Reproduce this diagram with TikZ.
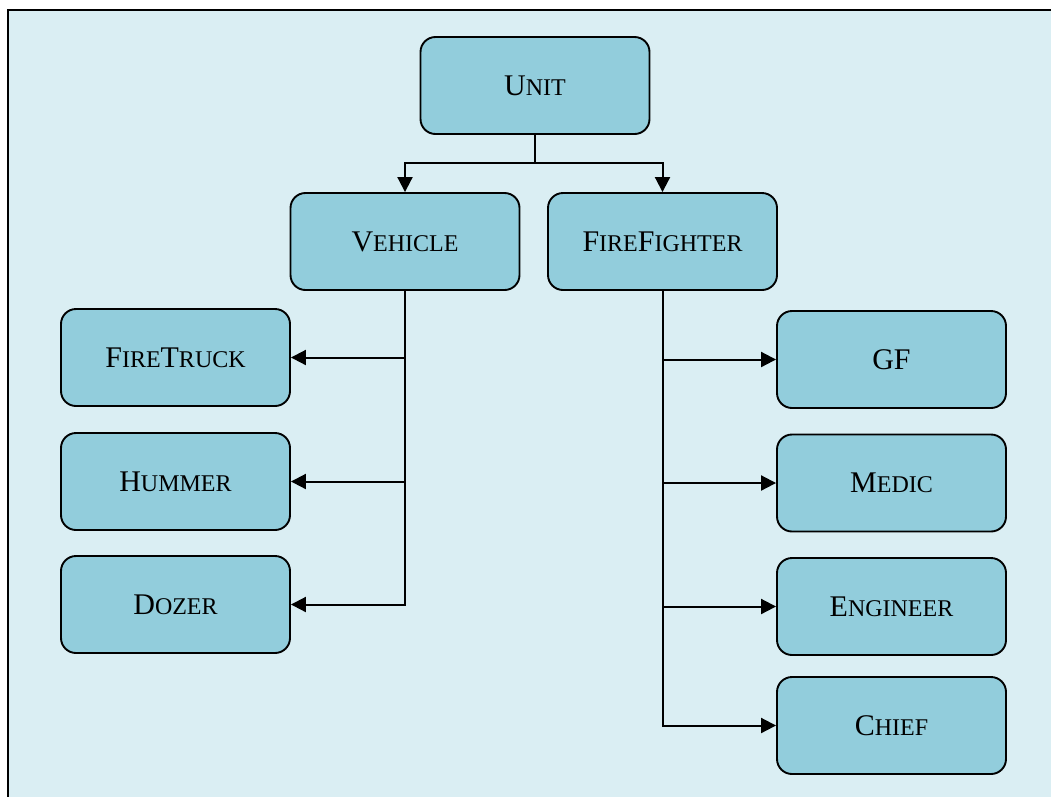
\documentclass[tikz,border=0pt]{standalone}
\usepackage{fontspec}
\setmainfont{Liberation Serif}
\usetikzlibrary{arrows.meta}
\definecolor{bgblue}{HTML}{DAEEF3}
\definecolor{boxblue}{HTML}{92CDDC}
\newcommand\capA[1]{{\fontsize{30}{30}\selectfont #1}}
\newcommand\capB[1]{{\fontsize{24}{24}\selectfont #1}}
\tikzset{
  unitbox/.style={draw=black, line width=1.9pt, fill=boxblue, rounded corners=15pt,
    minimum width=229pt, minimum height=97pt, inner sep=0pt, align=center, text=black},
  conn/.style={line width=2pt, -{Triangle[length=15pt,width=15pt]}},
  plain/.style={line width=2pt}
}
\begin{document}
\begin{tikzpicture}[x=1pt,y=-1pt]
\useasboundingbox (0,0) rectangle (1051,796);
\begin{scope}
\clip (0,0) rectangle (1051,796);
\fill[bgblue] (8,10) rectangle (1070,820);
\draw[line width=2.6pt] (8,820) -- (8,10) -- (1070,10);
\end{scope}
\node[unitbox] (unit) at (535,85.5) {\capA{U}\capB{NIT}};
\node[unitbox] (veh) at (405,241.5) {\capA{V}\capB{EHICLE}};
\node[unitbox] (ff) at (662.5,241.5) {\capA{F}\capB{IRE}\capA{F}\capB{IGHTER}};
\node[unitbox] (ft) at (175.5,357.5) {\capA{F}\capB{IRE}\capA{T}\capB{RUCK}};
\node[unitbox] (hum) at (175.5,481.5) {\capA{H}\capB{UMMER}};
\node[unitbox] (doz) at (175.5,604.5) {\capA{D}\capB{OZER}};
\node[unitbox] (gf) at (891.5,359.5) {\capA{GF}};
\node[unitbox] (med) at (891.5,483) {\capA{M}\capB{EDIC}};
\node[unitbox] (eng) at (891.5,606.5) {\capA{E}\capB{NGINEER}};
\node[unitbox] (chief) at (891.5,725.5) {\capA{C}\capB{HIEF}};
\coordinate (split) at (535,163);
\draw[plain] (unit.south) -- (split);
\draw[conn] (split) -| (veh.north);
\draw[conn] (split) -| (ff.north);
\draw[conn] (veh.south) |- (doz.east);
\draw[conn] (veh.south |- ft.east) -- (ft.east);
\draw[conn] (veh.south |- hum.east) -- (hum.east);
\draw[conn] (ff.south) |- (chief.west);
\draw[conn] (ff.south |- gf.west) -- (gf.west);
\draw[conn] (ff.south |- med.west) -- (med.west);
\draw[conn] (ff.south |- eng.west) -- (eng.west);
\end{tikzpicture}
\end{document}
